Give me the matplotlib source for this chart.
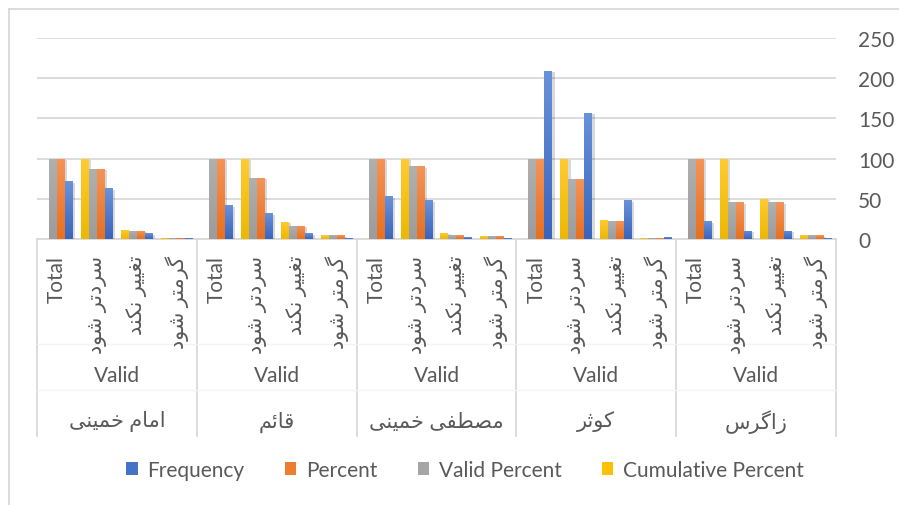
import numpy as np
import matplotlib
matplotlib.use('Agg')
import matplotlib.pyplot as plt
import matplotlib.transforms as mtransforms
from matplotlib.lines import Line2D
from matplotlib.patches import Rectangle
import matplotlib.patheffects as pe
from matplotlib.colors import to_rgba

plt.rcParams['font.family'] = ['Lato', 'DejaVu Sans']

# ---------------- data (in the chart's data order; the category axis runs right-to-left)
groups = ['زاگرس', 'کوثر', 'مصطفی خمینی', 'قائم', 'امام خمینی']
level2 = 'Valid'
answers = ['گرمتر شود', 'تغییر نکند', 'سردتر شود', 'Total']
series = ['Frequency', 'Percent', 'Valid Percent', 'Cumulative Percent']

frequency = [1, 10, 10, 22,
             2, 48, 157, 209,
             1, 2, 48, 53,
             1, 7, 32, 42,
             1, 7, 63, 72]
percent = [4.5, 45.5, 45.5, 100,
           1.0, 23.0, 75.1, 100,
           3.5, 4.5, 90.5, 100,
           4.8, 16.7, 76.2, 100,
           1.3, 10.4, 87.5, 100]
valid_percent = [4.5, 45.5, 45.5, 100,
                 1.0, 23.0, 75.1, 100,
                 3.5, 4.5, 90.5, 100,
                 4.8, 16.7, 76.2, 100,
                 1.3, 10.4, 87.5, 100]
cumulative_percent = [4.5, 50.0, 100, np.nan,
                      1.0, 24.0, 100, np.nan,
                      3.5, 8.0, 100, np.nan,
                      4.8, 21.5, 100, np.nan,
                      1.3, 11.7, 100, np.nan]
y_ticks = [0, 50, 100, 150, 200, 250]

colors = ['#4472C4', '#ED7D31', '#A5A5A5', '#FFC000']
grad_top = ['#6892DA', '#F49458', '#B0B0B0', '#FFCB33']
grad_bot = ['#3965BD', '#E8701F', '#9C9C9C', '#EDB800']

# ---------------- minimal Persian shaping (presentation forms + RTL order)
FORMS = {
    'ا': ('\uFE8D', '\uFE8E', None, None),
    'د': ('\uFEA9', '\uFEAA', None, None),
    'ر': ('\uFEAD', '\uFEAE', None, None),
    'ز': ('\uFEAF', '\uFEB0', None, None),
    'و': ('\uFEED', '\uFEEE', None, None),
    'ت': ('\uFE95', '\uFE96', '\uFE97', '\uFE98'),
    'ث': ('\uFE99', '\uFE9A', '\uFE9B', '\uFE9C'),
    'خ': ('\uFEA5', '\uFEA6', '\uFEA7', '\uFEA8'),
    'س': ('\uFEB1', '\uFEB2', '\uFEB3', '\uFEB4'),
    'ش': ('\uFEB5', '\uFEB6', '\uFEB7', '\uFEB8'),
    'ص': ('\uFEB9', '\uFEBA', '\uFEBB', '\uFEBC'),
    'ط': ('\uFEC1', '\uFEC2', '\uFEC3', '\uFEC4'),
    'غ': ('\uFECD', '\uFECE', '\uFECF', '\uFED0'),
    'ف': ('\uFED1', '\uFED2', '\uFED3', '\uFED4'),
    'ق': ('\uFED5', '\uFED6', '\uFED7', '\uFED8'),
    'م': ('\uFEE1', '\uFEE2', '\uFEE3', '\uFEE4'),
    'ن': ('\uFEE5', '\uFEE6', '\uFEE7', '\uFEE8'),
    'ئ': ('\uFE89', '\uFE8A', '\uFE8B', '\uFE8C'),
    'ی': ('\uFBFC', '\uFBFD', '\uFBFE', '\uFBFF'),
    'ک': ('\uFB8E', '\uFB8F', '\uFB90', '\uFB91'),
    'گ': ('\uFB92', '\uFB93', '\uFB94', '\uFB95'),
}


def shape(text):
    chars = list(text)
    if not any(c in FORMS for c in chars):
        return text

    def dual(c):
        return c in FORMS and FORMS[c][2] is not None
    out = []
    for k, c in enumerate(chars):
        if c not in FORMS:
            out.append(c)
            continue
        prev = chars[k - 1] if k > 0 else None
        nxt = chars[k + 1] if k + 1 < len(chars) else None
        cp = prev is not None and dual(prev)
        cn = dual(c) and nxt is not None and nxt in FORMS
        isol, fina, init, medi = FORMS[c]
        if cp and cn:
            out.append(medi)
        elif cp:
            out.append(fina)
        elif cn:
            out.append(init)
        else:
            out.append(isol)
    return ''.join(reversed(out))


# ---------------- figure
W, H = 899, 506
fig = plt.figure(figsize=(W / 100, H / 100), dpi=100)
ax = fig.add_axes([37 / W, 1 - 240 / H, (836 - 37) / W, 201 / H])

n_cat = len(groups) * len(answers)
x = np.arange(n_cat)
bw = 0.2
values = [frequency, percent, valid_percent, cumulative_percent]

bars_all = []
for j, (name, vals) in enumerate(zip(series, values)):
    bc = ax.bar(x + (j - 1.5) * bw, vals, width=bw, color=colors[j], label=name,
                zorder=3, linewidth=0)
    bars_all.append((j, bc))

xlim = (n_cat - 0.5, -0.5)   # reversed category axis
ylim = (0, 250)

for j, bc in bars_all:
    top = np.array(to_rgba(grad_top[j]))
    bot = np.array(to_rgba(grad_bot[j]))
    t = np.linspace(0, 1, 64)[:, None]
    grad = (top[None, :] * (1 - t) + bot[None, :] * t)[:, None, :]
    for rect in bc.patches:
        h = rect.get_height()
        if not np.isfinite(h) or h <= 0:
            continue
        rect.set_path_effects([pe.SimplePatchShadow(offset=(1.6, -1.0), shadow_rgbFace='#000000', alpha=0.15),
                               pe.Normal()])
        x0 = rect.get_x()
        im = ax.imshow(grad, extent=(x0, x0 + rect.get_width(), 0, h), aspect='auto',
                       interpolation='bilinear', zorder=3.5)
        im.set_clip_path(rect)

ax.set_xlim(*xlim)
ax.set_ylim(*ylim)
ax.set_yticks(y_ticks)
ax.yaxis.tick_right()
ax.tick_params(axis='y', length=0, pad=16, labelsize=15, labelcolor='#595959')
ax.set_xticks([])
ax.grid(axis='y', color='#D9D9D9', linewidth=1.3, zorder=0)
ax.set_axisbelow(True)
for s in ['top', 'left', 'right']:
    ax.spines[s].set_visible(False)
ax.spines['bottom'].set_color('#D9D9D9')
ax.spines['bottom'].set_linewidth(1.3)

# ---------------- multi-level category axis
tr = mtransforms.blended_transform_factory(ax.transData, fig.transFigure)


def fy(px):
    return 1 - px / H


txt_col = '#595959'
for i in range(n_cat):
    lab = answers[i % len(answers)]
    ax.text(i, fy(256), shape(lab), transform=tr, rotation=90, ha='center', va='top',
            fontsize=15, color=txt_col, clip_on=False)

ng = len(groups)
na = len(answers)
for g in range(ng):
    c = g * na + (na - 1) / 2
    ax.text(c, fy(376), level2, transform=tr, ha='center', va='center',
            fontsize=15, color=txt_col, clip_on=False)
    ax.text(c, fy(422), shape(groups[g]), transform=tr, ha='center', va='center',
            fontsize=15, color=txt_col, clip_on=False)

for g in range(ng + 1):
    xb = g * na - 0.5
    ax.add_line(Line2D([xb, xb], [fy(241), fy(437)], transform=tr, color='#D9D9D9',
                       linewidth=1.3, clip_on=False))
for yp in [345, 391]:
    ax.add_line(Line2D([-0.5, n_cat - 0.5], [fy(yp), fy(yp)], transform=tr, color='#F3F3F3',
                       linewidth=1.0, clip_on=False))

# chart border (top & left edges visible)
fig.add_artist(Line2D([9 / W, 1], [fy(10), fy(10)], transform=fig.transFigure, color='#D9D9D9', linewidth=1.3))
fig.add_artist(Line2D([9 / W, 9 / W], [fy(10), 0], transform=fig.transFigure, color='#D9D9D9', linewidth=1.3))

# ---------------- legend
handles = [Rectangle((0, 0), 1, 1, facecolor=colors[j], edgecolor='none') for j in range(4)]
fig.legend(handles, series, loc='center', bbox_to_anchor=(465 / W, fy(471)), ncol=4,
           frameon=False, fontsize=15, labelcolor=txt_col, handlelength=0.55, handleheight=0.55,
           handletextpad=0.45, columnspacing=1.95)

fig.savefig('out.png', dpi=100)
